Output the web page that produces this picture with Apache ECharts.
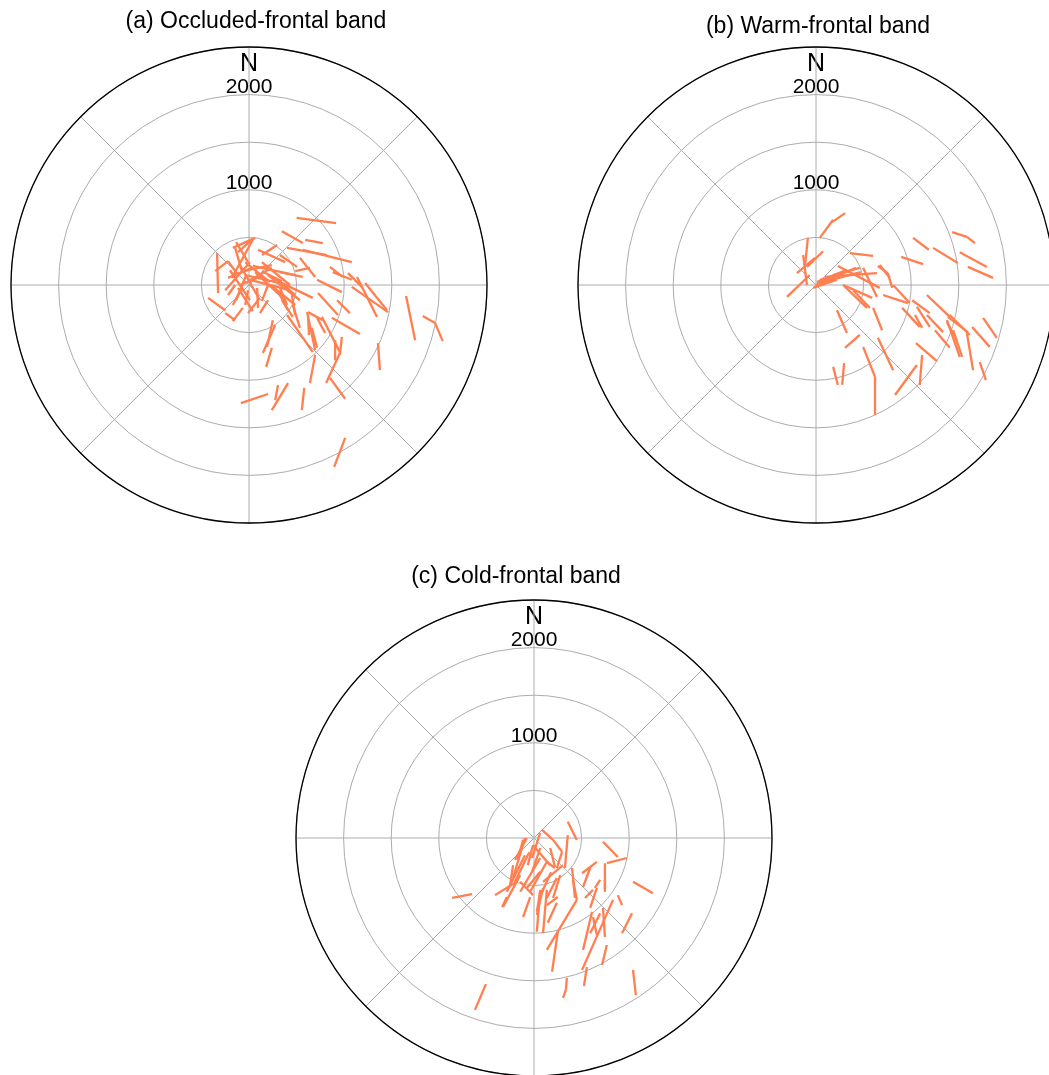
<!DOCTYPE html>
<html>
<head>
<meta charset="utf-8">
<script src="https://cdn.jsdelivr.net/npm/echarts@6/dist/echarts.min.js"></script>
<style>
  html, body { margin: 0; padding: 0; background: #ffffff; }
  #chart { width: 1049px; height: 1075px; }
</style>
</head>
<body>
<div id="chart"></div>
<script>
// Panel headings and axis annotations
const panelTitles = ['(a) Occluded-frontal band', '(b) Warm-frontal band', '(c) Cold-frontal band'];
const labelledRadii = [1000, 2000];
const northLabel = 'N';
const radiusMax = 2500;
const ringStep = 500;

// Track segments, one per row: [east start, north start, east end, north end]
const occludedSegments = [
  [500, 705, 915, 650], [345, 565, 565, 440], [590, 475, 775, 440], [400, 390, 820, 315],
  [565, 370, 1080, 240], [325, 315, 505, 190], [535, 285, 695, 85], [850, 190, 985, 85],
  [880, 135, 1080, 55], [1040, 125, 1195, -30], [1080, -20, 1460, -285], [1135, 85, 1345, -335],
  [1220, 20, 1450, -265], [715, 55, 975, -75], [725, -85, 935, -315], [925, -160, 1060, -295],
  [1650, -115, 1745, -580], [1825, -325, 1955, -400], [1955, -400, 2035, -590], [870, -345, 1165, -515],
  [620, -285, 775, -370], [620, -315, 630, -525], [660, -450, 715, -660], [715, -345, 800, -505],
  [765, -335, 955, -705], [975, -545, 955, -735], [1355, -610, 1375, -895], [325, 135, 565, 85],
  [325, 30, 670, -135], [460, -210, 535, -450], [400, -315, 670, -705], [250, -370, 190, -650],
  [275, -420, 145, -715], [240, -660, 180, -860], [-85, -1240, 200, -1145], [410, -1030, 240, -1315],
  [305, -1050, 275, -1210], [580, -1080, 555, -1315], [695, -735, 640, -1030], [610, -285, 695, -685],
  [955, -715, 810, -1030], [850, -975, 1010, -1195], [1010, -1605, 895, -1910], [905, -580, 905, -790],
  [345, -160, 460, -335], [-10, -295, 95, -160], [115, -295, 200, -160], [-335, 335, -325, -85],
  [-430, -135, -250, -265], [-170, 390, 65, 495], [-180, 75, 40, 475], [-115, 345, 30, 475],
  [135, 315, 295, 420], [-65, 145, 240, 210], [-220, 75, 30, 180], [40, 200, 485, 105],
  [-170, -210, -75, -30], [85, -30, 95, -240], [240, -10, 485, -210], [275, 75, 485, -105],
  [305, -65, 410, -265], [-65, -240, -170, -380], [-220, 250, -115, 105], [-115, -30, 40, -275],
  [-10, -55, -40, -210], [135, -170, 200, 0], [485, 145, 640, 180], [-355, 145, -220, 250],
  [135, 145, 345, 40], [-10, 40, 240, 180], [-145, 390, -75, 145], [325, -30, 400, -210],
  [450, -105, 485, -315], [-220, -105, -145, 0], [-95, 0, 135, 95], [-250, -55, 10, 240],
  [-40, 240, 220, 30], [95, 370, 380, 240], [-135, -160, -30, 105], [-250, -295, -145, -370],
  [-40, 105, 325, 20], [10, 55, 430, -55], [65, 135, 380, -160], [135, 240, 430, 0],
  [-95, 210, 115, -160], [-200, 155, 10, -160], [200, 105, 535, -160], [-135, 450, -10, 240]
];

const warmSegments = [
  [40, 495, 180, 685], [170, 660, 305, 755], [-85, 495, -115, 210], [-135, 315, -95, 0],
  [-200, 125, -10, 285], [75, 355, -95, 190], [-305, -125, -65, 105], [355, 335, 600, 305],
  [230, 200, 670, -30], [10, 30, 325, 160], [95, 85, 640, 125], [-30, -30, 220, 55],
  [285, 0, 535, -240], [495, 180, 640, -125], [670, 210, 775, 75], [1020, 495, 1185, 370],
  [1230, 390, 1490, 230], [1430, 555, 1585, 505], [1585, 505, 1670, 440], [1510, 345, 1795, 190],
  [1595, 190, 1860, 75], [895, 295, 1125, 220], [650, 200, 755, 125], [755, 125, 800, -30],
  [810, 0, 985, -190], [705, -105, 965, -190], [600, -240, 695, -475], [220, -265, 325, -505],
  [305, -660, 460, -525], [905, -240, 1090, -440], [1010, -160, 1195, -295], [1165, -105, 1405, -335],
  [1755, -345, 1900, -555], [1640, -440, 1825, -650], [180, -860, 230, -1050], [295, -820, 275, -1050],
  [495, -650, 620, -965], [620, -965, 620, -1365], [650, -555, 810, -895], [1060, -840, 830, -1155],
  [1115, -735, 1090, -1050], [1050, -610, 1270, -800], [1375, -370, 1510, -755], [1440, -475, 1535, -755],
  [1585, -505, 1650, -895], [1720, -810, 1785, -1000], [1060, -230, 1195, -440], [390, -55, 565, -240],
  [1250, -475, 1405, -660], [1385, -335, 1595, -495], [1040, -315, 1115, -450], [285, 0, 590, -135],
  [1375, -390, 1480, -580], [180, 105, 460, 180], [1165, -315, 1335, -495], [1405, -315, 1615, -525],
  [40, 55, 250, 105], [0, 0, 420, 180], [30, 20, 470, 135]
];

const coldSegments = [
  [-860, -630, -650, -590], [-410, -600, -180, -460], [-325, -725, -145, -390], [-200, -230, -75, 0],
  [85, 85, 200, -20], [200, -20, 295, -145], [355, 170, 450, -20], [355, 30, 325, -315],
  [725, -40, 880, -200], [765, -265, 975, -210], [745, -265, 745, -545], [505, -370, 660, -250],
  [1040, -460, 1250, -580], [-505, -1535, -620, -1805], [345, -1470, 335, -1595], [335, -1595, 305, -1680],
  [1040, -1385, 1070, -1650], [555, -1355, 525, -1555], [765, -1125, 715, -1335], [1030, -790, 925, -1000],
  [410, -440, 450, -650], [450, -650, 135, -1175], [250, -985, 190, -1405], [830, -650, 505, -1385],
  [725, -735, 745, -1040], [610, -775, 515, -1175], [65, -545, 30, -985], [135, -545, 95, -1000],
  [-40, -620, -115, -830], [-95, 0, -220, -420], [65, 55, -20, -210], [-10, -75, 170, -285],
  [170, -105, 220, -305], [295, -145, 240, -315], [65, -210, -145, -565], [135, -250, -40, -565],
  [305, -285, 95, -460], [400, -315, 430, -630], [275, -390, 200, -630], [590, -315, 515, -515],
  [660, -525, 590, -735], [95, -525, 30, -810], [-220, -285, -250, -495], [-95, -180, -285, -565],
  [-115, -20, -170, -230], [-10, -75, -65, -285], [135, -250, 220, -315], [65, -355, -75, -525],
  [65, -565, 30, -775], [240, -420, 135, -630], [-335, -725, -285, -620], [535, -630, 620, -545],
  [640, -525, 695, -440], [745, -440, 745, -565], [880, -600, 925, -705], [250, -620, 135, -705],
  [240, -680, 145, -890], [695, -790, 590, -1000], [620, -830, 660, -1020], [-145, -460, -10, -600],
  [65, -105, -20, -355], [-50, -150, -200, -460], [180, -360, 60, -620]
];

const panelSegments = [occludedSegments, warmSegments, coldSegments];

// Panel placement on the page
const panelCenters = [[249, 285], [816, 285], [534, 838]];
const panelRadius = 238;
const titleCenters = [[256, 22], [818, 27], [516, 577]];

const FONT = '"Liberation Sans", Arial, Helvetica, sans-serif';
const GRID_GREY = '#acacac';
const TRACK_COLOR = '#ff7f50';

// east/north offsets -> [radius, bearing clockwise from north]
function toPolar(east, north) {
  const r = Math.hypot(east, north);
  let a = Math.atan2(east, north) * 180 / Math.PI;
  if (a < 0) a += 360;
  return [r, a];
}

const chart = echarts.init(document.getElementById('chart'), null, { renderer: 'canvas' });

const polar = panelCenters.map(c => ({ center: c, radius: panelRadius }));

const angleAxis = panelCenters.map((c, i) => ({
  polarIndex: i,
  type: 'value',
  min: 0,
  max: 360,
  interval: 45,
  startAngle: 90,
  clockwise: true,
  axisLine: { show: true, lineStyle: { color: '#000000', width: 1.3 } },
  axisTick: { show: false },
  axisLabel: {
    show: true,
    margin: -30,
    color: '#000000',
    fontFamily: FONT,
    fontSize: 25,
    formatter: v => (v === 0 ? northLabel : '')
  },
  splitLine: { show: true, lineStyle: { color: GRID_GREY, width: 1 } }
}));

const radiusAxis = panelCenters.map((c, i) => ({
  polarIndex: i,
  type: 'value',
  min: 0,
  max: radiusMax,
  interval: ringStep,
  axisLine: { show: false },
  axisTick: { show: false },
  axisLabel: {
    show: true,
    margin: 0,
    align: 'center',
    verticalAlign: 'bottom',
    lineHeight: 14,
    color: '#000000',
    fontFamily: FONT,
    fontSize: 21,
    formatter: v => (labelledRadii.indexOf(v) >= 0 ? String(v) : '')
  },
  splitLine: { show: true, lineStyle: { color: GRID_GREY, width: 1 } }
}));

const series = panelSegments.map((segs, i) => ({
  type: 'custom',
  coordinateSystem: 'polar',
  polarIndex: i,
  clip: false,
  silent: true,
  data: segs.map(s => toPolar(s[0], s[1]).concat(toPolar(s[2], s[3]))),
  renderItem: (params, api) => {
    const p1 = api.coord([api.value(0), api.value(1)]);
    const p2 = api.coord([api.value(2), api.value(3)]);
    return {
      type: 'line',
      shape: { x1: p1[0], y1: p1[1], x2: p2[0], y2: p2[1] },
      style: { stroke: TRACK_COLOR, lineWidth: 2.3, lineCap: 'butt' }
    };
  }
}));

const graphic = panelTitles.map((t, i) => ({
  type: 'text',
  x: titleCenters[i][0],
  y: titleCenters[i][1],
  style: {
    text: t,
    fill: '#000000',
    font: '23px ' + FONT,
    align: 'center',
    verticalAlign: 'middle'
  }
}));

chart.setOption({
  animation: false,
  backgroundColor: '#ffffff',
  polar,
  angleAxis,
  radiusAxis,
  series,
  graphic
});
</script>
</body>
</html>
